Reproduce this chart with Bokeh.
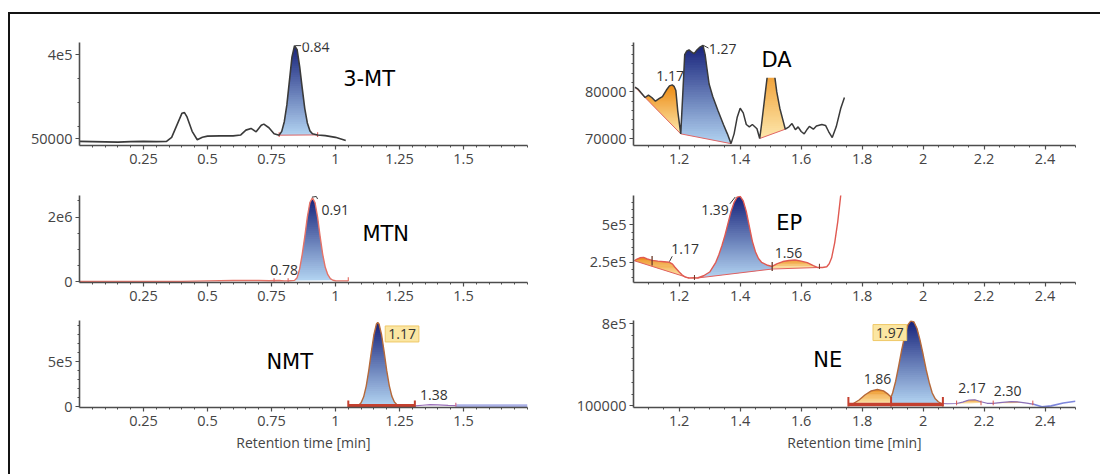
import numpy as np
from bokeh.plotting import figure
from bokeh.layouts import row, column
from bokeh.models import FixedTicker, Label, Range1d
from bokeh.embed import file_html
from bokeh.resources import INLINE

# ---------------- axis ticks ----------------
left_x_ticks = [0.25, 0.5, 0.75, 1.0, 1.25, 1.5]
left_x_labels = ["0.25", "0.5", "0.75", "1", "1.25", "1.5"]
right_x_ticks = [1.2, 1.4, 1.6, 1.8, 2.0, 2.2, 2.4]
right_x_labels = ["1.2", "1.4", "1.6", "1.8", "2", "2.2", "2.4"]

mt3_yticks, mt3_ylabels = [50000, 400000], ["50000", "4e5"]
mtn_yticks, mtn_ylabels = [0, 2000000], ["0", "2e6"]
nmt_yticks, nmt_ylabels = [0, 500000], ["0", "5e5"]
da_yticks, da_ylabels = [70000, 80000], ["70000", "80000"]
ep_yticks, ep_ylabels = [250000, 500000], ["2.5e5", "5e5"]
ne_yticks, ne_ylabels = [100000, 800000], ["100000", "8e5"]

# ---------------- traces (retention time [min], intensity) ----------------
mt3_t = [0.00, 0.05, 0.10, 0.15, 0.20, 0.25, 0.30, 0.34, 0.36, 0.38, 0.40, 0.41, 0.42, 0.44, 0.46,
         0.48, 0.50, 0.55, 0.60, 0.63, 0.65, 0.67, 0.69, 0.71, 0.72, 0.74, 0.76, 0.78, 0.79, 0.80,
         0.81, 0.82, 0.83, 0.84, 0.85, 0.86, 0.87, 0.88, 0.89, 0.90, 0.91, 0.93, 0.96, 1.00, 1.04]
mt3_i = [38000, 37000, 36000, 35000, 37000, 38000, 37000, 38000, 55000, 105000, 155000, 158000, 140000, 80000, 45000,
         55000, 60000, 61000, 61000, 65000, 85000, 92000, 78000, 105000, 110000, 95000, 70000, 64000, 80000, 120000,
         190000, 290000, 390000, 437000, 420000, 350000, 260000, 175000, 115000, 82000, 70000, 65000, 62000, 55000, 42000]

mtn_t = [0.00, 0.10, 0.20, 0.30, 0.40, 0.50, 0.60, 0.65, 0.70, 0.74, 0.78, 0.80, 0.82, 0.84, 0.85, 0.86,
         0.87, 0.88, 0.89, 0.90, 0.91, 0.92, 0.93, 0.94, 0.95, 0.96, 0.97, 0.98, 0.99, 1.00, 1.02, 1.05]
mtn_i = [15000, 15000, 10000, 15000, 15000, 30000, 40000, 45000, 40000, 35000, 40000, 30000, 35000, 45000, 130000, 400000,
         850000, 1400000, 2000000, 2450000, 2600000, 2450000, 2000000, 1400000, 850000, 450000, 220000, 100000, 50000,
         35000, 30000, 30000]

nmt_t = [1.05, 1.09, 1.10, 1.11, 1.12, 1.13, 1.14, 1.15, 1.16, 1.165, 1.17, 1.18, 1.19, 1.20, 1.21, 1.22,
         1.23, 1.24, 1.25, 1.31]
nmt_i = [8000, 13000, 44000, 109000, 229000, 403000, 610000, 801000, 921000, 937000, 921000, 801000, 610000,
         403000, 234000, 117000, 52000, 22000, 11000, 8000]
nmt_tail_t = [1.31, 1.34, 1.37, 1.40, 1.44, 1.47]
nmt_tail_i = [8000, 15000, 22000, 20000, 13000, 10000]
nmt_end_t = [1.47, 1.55, 1.65, 1.75]
nmt_end_i = [6000, 6000, 6000, 6000]

da_t = [1.055, 1.065, 1.075, 1.088, 1.099, 1.11, 1.122, 1.135, 1.145, 1.158, 1.168, 1.177, 1.183, 1.189,
        1.195, 1.205, 1.212, 1.218, 1.225, 1.232, 1.24, 1.249, 1.258, 1.268, 1.278, 1.285, 1.29, 1.298, 1.31,
        1.327, 1.345, 1.358, 1.37, 1.38, 1.39, 1.40, 1.41, 1.42, 1.43, 1.44, 1.455, 1.464, 1.47, 1.48, 1.49,
        1.50, 1.51, 1.52, 1.53, 1.54, 1.548, 1.56, 1.57, 1.581, 1.59, 1.60, 1.61, 1.62, 1.627, 1.64, 1.65,
        1.668, 1.68, 1.69, 1.702, 1.715, 1.73, 1.742]
da_i = [81000, 80600, 79800, 78800, 79300, 78800, 78000, 78600, 79000, 80400, 81300, 81500, 81200, 80300,
        76000, 71000, 80000, 88000, 88800, 89000, 88600, 88200, 89000, 89600, 90000, 88000, 85500, 81700, 79000,
        76000, 73000, 71000, 68900, 71000, 74500, 76500, 75500, 73000, 72500, 73000, 72100, 70000, 73000, 78500,
        84000, 88000, 85000, 80000, 76500, 74000, 72000, 72500, 73200, 71900, 72500, 71500, 71000, 72000, 72600,
        72000, 72700, 73000, 72800, 71500, 70200, 72500, 76500, 78800]

ep_t = [1.053, 1.06, 1.071, 1.083, 1.095, 1.111, 1.13, 1.15, 1.168, 1.178, 1.186, 1.20, 1.21, 1.22, 1.232,
        1.249, 1.26, 1.28, 1.30, 1.32, 1.33, 1.34, 1.35, 1.36, 1.37, 1.38, 1.39, 1.40, 1.41, 1.42, 1.43, 1.44,
        1.45, 1.46, 1.47, 1.49, 1.505, 1.52, 1.54, 1.56, 1.58, 1.60, 1.62, 1.64, 1.655, 1.67, 1.684, 1.692,
        1.70, 1.71, 1.72, 1.73]
ep_i = [260000, 270000, 280000, 283000, 272000, 263000, 258000, 254000, 250000, 238000, 217000, 185000, 165000,
        151000, 145000, 147000, 145000, 160000, 185000, 250000, 300000, 360000, 430000, 510000, 590000, 650000,
        685000, 690000, 660000, 590000, 490000, 390000, 320000, 275000, 250000, 230000, 222000, 240000, 255000,
        262000, 265000, 258000, 248000, 228000, 215000, 215000, 220000, 240000, 280000, 380000, 520000, 700000]

ne_t = [1.755, 1.77, 1.79, 1.81, 1.83, 1.85, 1.87, 1.885, 1.895, 1.90, 1.91, 1.92, 1.93, 1.94, 1.95, 1.96,
        1.97, 1.98, 1.99, 2.00, 2.01, 2.02, 2.03, 2.04, 2.05, 2.06, 2.08, 2.11, 2.13, 2.15, 2.17, 2.19, 2.21,
        2.23, 2.26, 2.29, 2.31, 2.34, 2.36, 2.39, 2.42, 2.46, 2.50]
ne_i = [114000, 118000, 150000, 195000, 228000, 240000, 228000, 200000, 175000, 210000, 310000, 440000, 580000,
        700000, 790000, 825000, 815000, 760000, 660000, 540000, 410000, 300000, 210000, 160000, 135000, 120000,
        118000, 120000, 132000, 150000, 152000, 135000, 122000, 122000, 130000, 136000, 134000, 124000, 115000,
        92000, 100000, 125000, 140000]

# integrated peaks: (start, end, baseline at start, baseline at end, colour scheme)
mt3_peaks = [(0.78, 0.93, 64000, 65000, "blue")]
mtn_peaks = [(0.84, 0.99, 45000, 50000, "blue")]
nmt_peaks = [(1.09, 1.25, 13000, 11000, "blue")]
da_peaks = [(1.055, 1.205, 81000, 71000, "orange"), (1.205, 1.37, 71000, 68900, "blue"),
            (1.464, 1.548, 70000, 72000, "orange")]
ep_peaks = [(1.053, 1.232, 260000, 145000, "orange"), (1.26, 1.505, 145000, 205000, "blue"),
            (1.505, 1.655, 205000, 215000, "orange")]
ne_peaks = [(1.755, 1.895, 114000, 114000, "orange"), (1.895, 2.06, 114000, 114000, "blue"),
            (2.11, 2.19, 120000, 125000, "orange"), (2.23, 2.34, 122000, 124000, "orange")]

# peak labels (text, time, intensity)
mt3_labels = [("0.84", 0.868, 430000)]
mtn_labels = [("0.91", 0.945, 2230000), ("0.78", 0.745, 380000)]
nmt_labels = [("1.38", 1.33, 125000)]
da_labels = [("1.17", 1.125, 83500), ("1.27", 1.297, 89100)]
ep_labels = [("1.39", 1.272, 600000), ("1.17", 1.174, 340000), ("1.56", 1.513, 310000)]
ne_labels = [("1.86", 1.805, 330000), ("2.17", 2.115, 250000), ("2.30", 2.232, 225000)]
nmt_box = [("1.17", 1.26, 810000)]
ne_box = [("1.97", 1.891, 725000)]

# compound names
mt3_name, mtn_name, nmt_name = ("3-MT", 1.03, 300000), ("MTN", 1.105, 1470000), ("NMT", 0.73, 500000)
da_name, ep_name, ne_name = ("DA", 1.45, 86900), ("EP", 1.518, 510000), ("NE", 1.64, 490000)

GRAD = {"blue": ("#16217a", "#b3d4f1"), "orange": ("#ec8a12", "#fde8ad")}
AXC = "#4d4d4d"
LABEL_FONT = "Open Sans"
NAME_FONT = "DejaVu Sans"


def hex2rgb(h):
    return np.array([int(h[i:i + 2], 16) for i in (1, 3, 5)], dtype=float)


def seg(t, y, a, b):
    t = np.asarray(t, float)
    y = np.asarray(y, float)
    m = (t >= a - 1e-9) & (t <= b + 1e-9)
    return t[m], y[m]


def clip_poly(poly, lim, keep_above):
    """Sutherland-Hodgman clip of a polygon against a horizontal line."""
    out = []
    n = len(poly)
    for k in range(n):
        cur, prev = poly[k], poly[k - 1]
        cin = cur[1] >= lim if keep_above else cur[1] <= lim
        pin = prev[1] >= lim if keep_above else prev[1] <= lim
        if cin != pin:
            f = (lim - prev[1]) / (cur[1] - prev[1])
            out.append((prev[0] + f * (cur[0] - prev[0]), lim))
        if cin:
            out.append(cur)
    return out


def fill_peak(p, t, y, pk):
    """Gradient-filled area between the trace and the integration baseline."""
    t0, t1, b0, b1, kind = pk
    xs, ys = seg(t, y, t0, t1)
    poly = list(zip(xs, ys)) + [(t1, b1), (t0, b0)]
    ytop, ybot = ys.max(), min(b0, b1)
    top, bot = hex2rgb(GRAD[kind][0]), hex2rgb(GRAD[kind][1])
    n = 40
    edges = np.linspace(ybot, ytop, n + 1)
    dh = edges[1] - edges[0]
    bx, by, cols = [], [], []
    for k in range(n):
        hi = edges[k + 1] + (0.6 * dh if k < n - 1 else dh)
        band = clip_poly(clip_poly(poly, edges[k], True), hi, False)
        if len(band) < 3:
            continue
        f = (k + 0.5) / n
        c = bot + (top - bot) * f
        bx.append([q[0] for q in band])
        by.append([q[1] for q in band])
        cols.append("#%02x%02x%02x" % tuple(int(round(v)) for v in c))
    p.patches(xs=bx, ys=by, fill_color=cols, line_color=None)


def panel(width, height, xr, yr, mb, xt, xl, yt, yl, ystep, xlabel=False):
    p = figure(width=width, height=height, x_range=Range1d(*xr), y_range=Range1d(*yr),
               output_backend="svg", toolbar_location=None, tools="",
               min_border_left=mb[0], min_border_right=mb[1], min_border_top=mb[2],
               min_border_bottom=mb[3])
    p.outline_line_color = None
    p.xgrid.visible = False
    p.ygrid.visible = False
    for ax in (p.xaxis[0], p.yaxis[0]):
        ax.axis_line_color = AXC
        ax.axis_line_width = 1.6
        ax.major_tick_line_color = AXC
        ax.major_tick_line_width = 1.2
        ax.major_tick_in = 0
        ax.major_tick_out = 4
        ax.minor_tick_line_color = AXC
        ax.minor_tick_in = 0
        ax.minor_tick_out = 2
        ax.major_label_text_font = LABEL_FONT
        ax.major_label_text_font_size = "14.5px"
        ax.major_label_text_color = "#444444"
    xminor = list(np.round(np.arange(xr[0] + 0.05, xr[1] + 1e-6, 0.05), 2))
    p.xaxis.ticker = FixedTicker(ticks=xt, minor_ticks=xminor)
    p.xaxis.major_label_overrides = dict(zip(xt, xl))
    p.xaxis.major_label_standoff = 4
    yminor = list(np.arange(ystep * np.ceil(yr[0] / ystep), yr[1], ystep))
    p.yaxis.ticker = FixedTicker(ticks=yt, minor_ticks=yminor)
    p.yaxis.major_label_overrides = dict(zip(yt, yl))
    p.yaxis.major_label_standoff = 3
    if xlabel:
        p.xaxis.axis_label = "Retention time [min]"
        p.xaxis.axis_label_text_font = LABEL_FONT
        p.xaxis.axis_label_text_font_size = "14px"
        p.xaxis.axis_label_text_font_style = "normal"
        p.xaxis.axis_label_text_color = "#444444"
        p.xaxis.axis_label_standoff = 4
    return p


def add_labels(p, labels, align="left"):
    for txt, x, y in labels:
        p.add_layout(Label(x=x, y=y, text=txt, text_font=LABEL_FONT, text_font_size="14px",
                           text_color="#333333", text_align=align, text_baseline="middle"))


def add_box(p, labels):
    for txt, x, y in labels:
        p.add_layout(Label(x=x, y=y, text=txt, text_font=LABEL_FONT, text_font_size="14px",
                           text_color="#333333", text_align="center", text_baseline="middle",
                           background_fill_color="#fbe6a2", border_line_color="#efc868",
                           border_line_width=1, padding=3))


def add_name(p, name, bg=False):
    txt, x, y = name
    kw = {}
    if bg:
        kw = dict(background_fill_color="white", padding=6)
    p.add_layout(Label(x=x, y=y, text=txt, text_font=NAME_FONT, text_font_size="21px",
                       text_color="#000000", text_align="left", text_baseline="middle", **kw))


def baselines(p, peaks, color="#e06666"):
    for t0, t1, b0, b1, _ in peaks:
        p.line([t0, t1], [b0, b1], line_color=color, line_width=1)


def ticks(p, xs, y0, y1, color, width=1.2):
    p.segment(x0=xs, y0=[y0] * len(xs), x1=xs, y1=[y1] * len(xs), line_color=color, line_width=width)


LEFT_X = (0.0, 1.75)
RIGHT_X = (1.05, 2.5)

# ---------------- 3-MT ----------------
f1 = panel(550, 158, LEFT_X, (21000, 450000), (69, 33, 28, 27), left_x_ticks, left_x_labels,
           mt3_yticks, mt3_ylabels, 100000)
for pk in mt3_peaks:
    fill_peak(f1, mt3_t, mt3_i, pk)
baselines(f1, mt3_peaks)
ticks(f1, [0.78, 0.93], 56000, 76000, "#e06666")
f1.line(mt3_t, mt3_i, line_color="#3a3a3a", line_width=1.6)
f1.line([0.843, 0.866], [437000, 437000], line_color="#3a3a3a", line_width=1)
add_labels(f1, mt3_labels)
add_name(f1, mt3_name)

# ---------------- MTN ----------------
f2 = panel(550, 138, LEFT_X, (-20000, 2670000), (69, 33, 12, 28), left_x_ticks, left_x_labels,
           mtn_yticks, mtn_ylabels, 500000)
for pk in mtn_peaks:
    fill_peak(f2, mtn_t, mtn_i, pk)
f2.line(mtn_t, mtn_i, line_color="#e57368", line_width=1.4)
ticks(f2, [0.76, 0.815], 0, 110000, "#e06666")
ticks(f2, [1.05], 30000, 140000, "#e57368")
f2.line([0.908, 0.925, 0.93], [2620000, 2640000, 2560000], line_color="#3a3a3a", line_width=1)
add_labels(f2, mtn_labels)
add_name(f2, mtn_name)

# ---------------- NMT ----------------
f3 = panel(550, 164, LEFT_X, (-10000, 960000), (69, 33, 10, 67), left_x_ticks, left_x_labels,
           nmt_yticks, nmt_ylabels, 100000, xlabel=True)
for pk in nmt_peaks:
    fill_peak(f3, nmt_t, nmt_i, pk)
f3.line(nmt_end_t, nmt_end_i, line_color="#aab0e6", line_width=3.5)
f3.line(nmt_tail_t, nmt_tail_i, line_color="#9a6fb8", line_width=1.2)
f3.line(nmt_t, nmt_i, line_color="#b5693a", line_width=1.4)
f3.line([1.05, 1.31], [10000, 10000], line_color="#c4402f", line_width=3.5)
ticks(f3, [1.05, 1.31], -6000, 68000, "#c4402f", 2)
ticks(f3, [1.47], 2000, 44000, "#d46a8a", 1.2)
add_labels(f3, nmt_labels)
add_box(f3, nmt_box)
add_name(f3, nmt_name)

# ---------------- DA ----------------
f4 = panel(540, 158, RIGHT_X, (68500, 90600), (73, 25, 28, 27), right_x_ticks, right_x_labels,
           da_yticks, da_ylabels, 2000)
for pk in da_peaks:
    fill_peak(f4, da_t, da_i, pk)
baselines(f4, da_peaks)
f4.line(da_t, da_i, line_color="#3a3a3a", line_width=1.5)
f4.line([1.279, 1.296], [90000, 89400], line_color="#3a3a3a", line_width=1)
add_labels(f4, da_labels)
add_name(f4, da_name, bg=True)

# ---------------- EP ----------------
f5 = panel(540, 138, RIGHT_X, (115000, 696000), (73, 25, 23, 28), right_x_ticks, right_x_labels,
           ep_yticks, ep_ylabels, 50000)
for pk in ep_peaks:
    fill_peak(f5, ep_t, ep_i, pk)
baselines(f5, ep_peaks, "#e06060")
f5.line(ep_t, ep_i, line_color="#e05a52", line_width=1.4)
ticks(f5, [1.111], 228000, 292000, "#6b3a2a", 1.3)
ticks(f5, [1.25], 132000, 165000, "#6b3a2a", 1.0)
ticks(f5, [1.505], 192000, 252000, "#6b3a2a", 1.3)
ticks(f5, [1.66], 205000, 240000, "#6b3a2a", 1.0)
f5.line([1.366, 1.384], [640000, 686000], line_color="#3a3a3a", line_width=1)
f5.line([1.168, 1.177], [255000, 290000], line_color="#3a3a3a", line_width=1)
add_labels(f5, ep_labels)
add_name(f5, ep_name)

# ---------------- NE ----------------
f6 = panel(540, 164, RIGHT_X, (86000, 828000), (73, 25, 10, 67), right_x_ticks, right_x_labels,
           ne_yticks, ne_ylabels, 100000, xlabel=True)
for pk in ne_peaks:
    fill_peak(f6, ne_t, ne_i, pk)
x_a, y_a = seg(ne_t, ne_i, 1.755, 2.06)
x_b, y_b = seg(ne_t, ne_i, 2.06, 2.36)
x_c, y_c = seg(ne_t, ne_i, 2.36, 2.50)
f6.line(x_c, y_c, line_color="#7d86dc", line_width=1.6)
f6.line(x_b, y_b, line_color="#8a6fb8", line_width=1.2)
f6.line(x_a, y_a, line_color="#b5693a", line_width=1.4)
f6.line([1.755, 2.065], [112000, 112000], line_color="#c4402f", line_width=3.5)
ticks(f6, [1.755, 1.895, 2.065], 95000, 175000, "#c4402f", 2)
ticks(f6, [2.11, 2.19, 2.23, 2.36], 105000, 145000, "#d9534f", 1.0)
add_labels(f6, ne_labels)
add_box(f6, ne_box)
add_name(f6, ne_name)

layout = column(row(f1, f4), row(f2, f5), row(f3, f6), margin=(12, 0, 0, 8),
                styles={"border-top": "2px solid #141414", "border-left": "2px solid #141414"})

open("out.html", "w").write(file_html(layout, INLINE))
